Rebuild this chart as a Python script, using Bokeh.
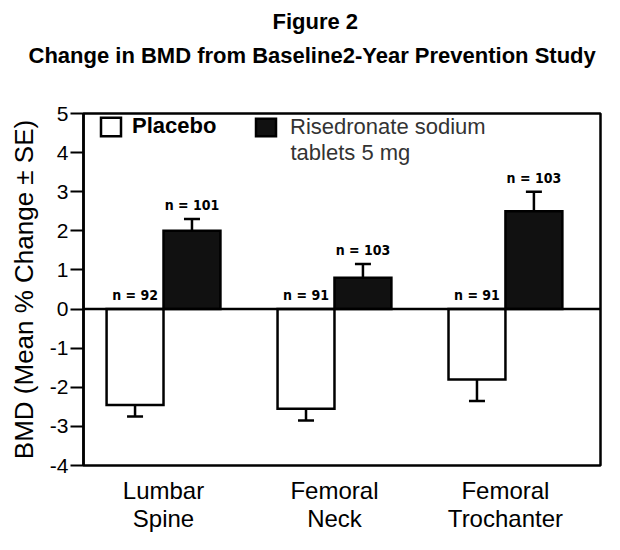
from bokeh.plotting import figure
from bokeh.models import (Range1d, FixedTicker, Label, Legend, LegendItem, Whisker,
                          ColumnDataSource, Span, TeeHead, Title)
from bokeh.core.properties import value
from bokeh.embed import file_html
from bokeh.resources import INLINE

categories = ["Lumbar\nSpine", "Femoral\nNeck", "Femoral\nTrochanter"]
placebo_mean = [-2.45, -2.55, -1.8]
placebo_upper = [-1.75, -1.8, -1.3]
placebo_lower = [-2.75, -2.85, -2.35]
placebo_n = ["n = 92", "n = 91", "n = 91"]
rise_mean = [2.0, 0.8, 2.5]
rise_upper = [2.3, 1.15, 3.0]
rise_lower = [1.7, 0.45, 2.0]
rise_n = ["n = 101", "n = 103", "n = 103"]
y_ticks = [-4, -3, -2, -1, 0, 1, 2, 3, 4, 5]
y_tick_labels = ["-4", "-3", "-2", "-1", "0", "1", "2", "3", "4", "5"]
title_line1 = "Figure 2"
title_line2 = "Change in BMD from Baseline2-Year Prevention Study"
y_label = "BMD (Mean % Change \u00b1 SE)"
legend_placebo = "Placebo"
legend_rise_line1 = "Risedronate sodium"
legend_rise_line2 = "tablets 5 mg"

BAR_W = 0.333
centers = [i + 1 for i in range(len(categories))]
px = [c - BAR_W / 2 for c in centers]
rx = [c + BAR_W / 2 for c in centers]

FONT = "Liberation Sans"

p = figure(width=604, height=534, x_range=Range1d(0.532, 3.556), y_range=Range1d(-4, 5),
           output_backend="svg", toolbar_location=None,
           min_border_left=83, min_border_right=4, min_border_top=0, min_border_bottom=58)
p.xgrid.visible = False
p.ygrid.visible = False
p.outline_line_color = "black"
p.outline_line_width = 2.5
p.background_fill_color = "white"
p.border_fill_color = "white"

# titles
p.title.text = title_line1
p.title.align = "left"
p.title.offset = 189
p.title.text_font = FONT
p.title.text_font_style = "bold"
p.title.text_font_size = "22px"
p.title.text_color = "black"
p.title.standoff = 13
t2 = Title(text=title_line2, align="left", offset=-55,
           text_font=FONT, text_font_style="bold", text_font_size="22px",
           text_color="black", standoff=0)
try:
    t2.padding = dict(left=0, right=0, top=0, bottom=46)
except Exception:
    t2.standoff = 46
p.add_layout(t2, "above")

# axes
ya = p.yaxis[0]
ya.ticker = FixedTicker(ticks=y_ticks)
ya.major_label_overrides = {t: l for t, l in zip(y_ticks, y_tick_labels)}
ya.minor_tick_line_color = None
ya.major_tick_out = 13
ya.major_tick_in = 0
ya.major_tick_line_width = 2
ya.axis_line_width = 2.5
ya.major_label_standoff = 2
ya.major_label_text_font = FONT
ya.major_label_text_font_size = "21px"
ya.major_label_text_color = "black"
ya.axis_label = y_label
ya.axis_label_text_font = FONT
ya.axis_label_text_font_size = "26px"
ya.axis_label_text_font_style = "normal"
ya.axis_label_text_color = "black"
ya.axis_label_standoff = 8

xa = p.xaxis[0]
xa.ticker = FixedTicker(ticks=centers)
xa.major_label_overrides = {c: l for c, l in zip(centers, categories)}
xa.major_tick_line_color = None
xa.minor_tick_line_color = None
xa.axis_line_color = None
xa.major_label_standoff = 5
xa.major_label_text_font = FONT
xa.major_label_text_font_size = "24px"
xa.major_label_text_color = "black"
xa.major_label_text_line_height = 1.05

p.add_layout(Span(location=0, dimension="width", line_color="black", line_width=2.5))

src_p = ColumnDataSource(dict(x=px, top=placebo_mean, upper=placebo_upper, lower=placebo_lower,
                              n=placebo_n, ny=[0] * len(px)))
src_r = ColumnDataSource(dict(x=rx, top=rise_mean, upper=rise_upper, lower=rise_lower,
                              n=rise_n, ny=rise_upper))

bar_p = p.vbar(x="x", top="top", bottom=0, width=BAR_W, source=src_p,
               fill_color="white", line_color="black", line_width=2.5, line_join="miter")
bar_r = p.vbar(x="x", top="top", bottom=0, width=BAR_W, source=src_r,
               fill_color="#111111", line_color="black", line_width=2.5, line_join="miter")

for src in (src_p, src_r):
    w = Whisker(base="x", upper="upper", lower="lower", source=src,
                line_color="black", line_width=2.5,
                upper_head=TeeHead(size=16, line_width=2.5, line_color="black"),
                lower_head=TeeHead(size=16, line_width=2.5, line_color="black"))
    p.add_layout(w)
    p.text(x="x", y="ny", text="n", source=src, text_align="center", text_baseline="bottom",
           y_offset=-6, text_font=value("DejaVu Sans Condensed"), text_font_style="bold",
           text_font_size="14px", text_color="black")

# legends
leg1 = Legend(items=[LegendItem(label=legend_placebo, renderers=[bar_p])],
              location=(15, 326), orientation="horizontal", glyph_width=25, glyph_height=23,
              label_standoff=9, padding=0, margin=0, spacing=0,
              border_line_color=None, background_fill_alpha=0,
              label_text_font=FONT, label_text_font_style="bold",
              label_text_font_size="22px", label_text_color="black")
leg2 = Legend(items=[LegendItem(label=legend_rise_line1, renderers=[bar_r])],
              location=(170, 325), orientation="horizontal", glyph_width=25, glyph_height=22,
              label_standoff=12, padding=0, margin=0, spacing=0,
              border_line_color=None, background_fill_alpha=0,
              label_text_font=FONT, label_text_font_style="normal",
              label_text_font_size="22px", label_text_color="#333333")
p.add_layout(leg1)
p.add_layout(leg2)
p.add_layout(Label(x=207, y=313, x_units="screen", y_units="screen", text=legend_rise_line2,
                   text_align="left", text_baseline="middle",
                   text_font=FONT, text_font_size="22px", text_color="#333333"))

open("out.html", "w").write(file_html(p, INLINE))
